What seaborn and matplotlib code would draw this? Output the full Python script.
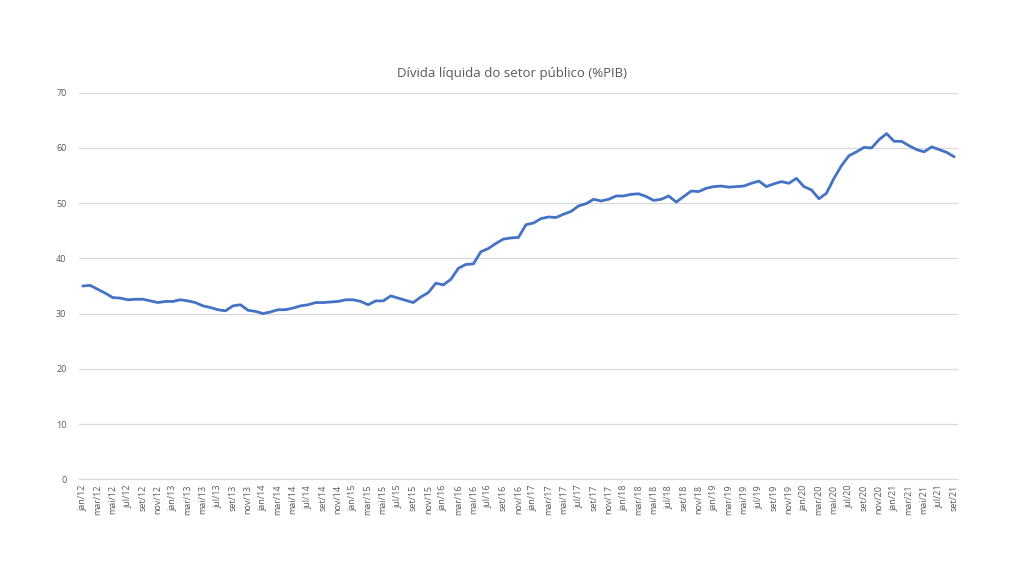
import numpy as np
import pandas as pd
import matplotlib
matplotlib.use("Agg")
import matplotlib.pyplot as plt
import seaborn as sns

# Monthly series jan/12 .. set/21
meses = ["jan", "fev", "mar", "abr", "mai", "jun", "jul", "ago", "set", "out", "nov", "dez"]
anos = list(range(12, 22))

divida_2012 = [35.0, 35.1, 34.4, 33.7, 32.9, 32.8, 32.5, 32.6, 32.6, 32.3, 32.0, 32.2]
divida_2013 = [32.2, 32.5, 32.3, 32.0, 31.4, 31.1, 30.7, 30.5, 31.4, 31.6, 30.6, 30.4]
divida_2014 = [30.0, 30.3, 30.7, 30.7, 31.0, 31.4, 31.6, 32.0, 32.0, 32.1, 32.2, 32.5]
divida_2015 = [32.5, 32.2, 31.6, 32.3, 32.3, 33.2, 32.8, 32.4, 32.0, 33.0, 33.8, 35.5]
divida_2016 = [35.2, 36.2, 38.2, 38.9, 39.0, 41.2, 41.8, 42.7, 43.5, 43.7, 43.8, 46.1]
divida_2017 = [46.4, 47.2, 47.5, 47.4, 48.0, 48.5, 49.5, 49.9, 50.7, 50.4, 50.7, 51.3]
divida_2018 = [51.3, 51.6, 51.7, 51.2, 50.5, 50.7, 51.3, 50.2, 51.2, 52.2, 52.1, 52.7]
divida_2019 = [53.0, 53.1, 52.9, 53.0, 53.1, 53.6, 54.0, 53.0, 53.5, 53.9, 53.6, 54.5]
divida_2020 = [53.0, 52.4, 50.8, 51.8, 54.5, 56.8, 58.6, 59.3, 60.1, 60.0, 61.5, 62.6]
divida_2021 = [61.2, 61.2, 60.4, 59.7, 59.3, 60.2, 59.7, 59.2, 58.4]

valores = (divida_2012 + divida_2013 + divida_2014 + divida_2015 + divida_2016
           + divida_2017 + divida_2018 + divida_2019 + divida_2020 + divida_2021)
rotulos = [f"{m}/{a}" for a in anos for m in meses][:len(valores)]

df = pd.DataFrame({"pos": np.arange(len(valores)), "mes": rotulos, "divida": valores})

sns.set_style("white")
plt.rcParams["font.family"] = ["Open Sans", "DejaVu Sans"]

fig = plt.figure(figsize=(10.24, 5.76), dpi=100)
ax = fig.add_axes([0.0771, 0.168, 0.8584, 0.671])

sns.lineplot(data=df, x="pos", y="divida", color="#4472C4", linewidth=2.0, ax=ax)

cinza = "#595959"
ax.set_xlim(-0.5, len(valores) - 0.5)
ax.set_ylim(0, 70)
ax.set_yticks(range(0, 71, 10))
ax.yaxis.grid(True, color="#D9D9D9", linewidth=0.9)
ax.set_xticks(df["pos"][::2])
ax.set_xticklabels(df["mes"][::2], rotation=90, fontsize=6.5, color=cinza)
ax.tick_params(axis="y", labelsize=6.5, labelcolor=cinza, length=0, pad=9)
ax.tick_params(axis="x", length=0, pad=4)

for lado in ["top", "right", "left"]:
    ax.spines[lado].set_visible(False)
ax.spines["bottom"].set_color("#D9D9D9")

ax.set_xlabel("")
ax.set_ylabel("")
fig.text(0.5, 0.873, "Dívida líquida do setor público (%PIB)", ha="center", va="center",
         fontsize=9.5, color=cinza)

fig.savefig("out.png", dpi=100)
